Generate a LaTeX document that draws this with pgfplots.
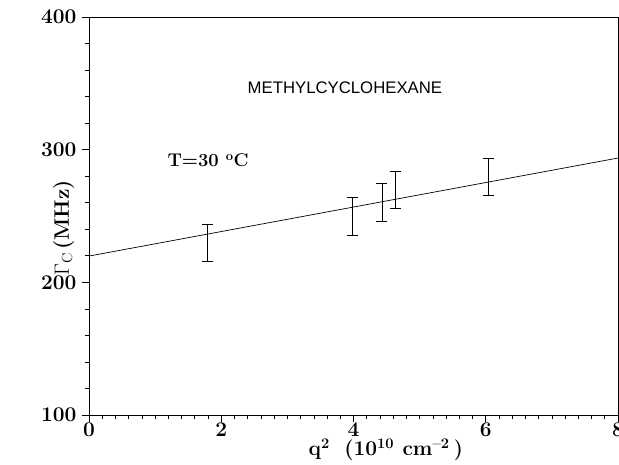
\documentclass[border=0pt]{standalone}
\usepackage{fontspec}
\usepackage{pgfplots}
\pgfplotsset{compat=1.18}
\newfontfamily\hel{Liberation Sans}
\newcommand{\bigbf}{\fontsize{21}{24}\selectfont\bfseries}
\newcommand{\midbf}{\fontsize{18.5}{21}\selectfont\bfseries}
\newcommand{\helsize}{\hel\fontsize{16.8}{19}\selectfont}
\pgfplotstableread{
x y e
1.79 229.6 14.0
3.98 249.9 14.2
4.43 260.0 14.3
4.63 269.9 14.0
6.04 279.6 14.0
}\errdata
\begin{document}
\begin{tikzpicture}
\useasboundingbox (-89bp,-50bp) rectangle (530bp,415bp);
\begin{axis}[
  at={(0,0)}, anchor=south west,
  width=529bp, height=398bp, scale only axis,
  xmin=0, xmax=8, ymin=100, ymax=400,
  xtick={0,2,4,6,8}, ytick={100,200,300,400},
  minor x tick num=9, minor y tick num=4,
  xtick pos=bottom, ytick pos=left,
  tick align=outside,
  major tick length=7bp, minor tick length=4bp,
  tick style={black, line width=0.6bp},
  axis line style={black, line width=0.8bp},
  /pgf/number format/assume math mode=true,
  ticklabel style={font=\bigbf},
  xticklabel style={yshift=3bp},
  yticklabel style={xshift=-2bp},
  xlabel={q\textsuperscript{2}\hspace{0.7em}(10\textsuperscript{10}\hspace{0.4em}cm\textsuperscript{--2}\hspace{0.2em})},
  ylabel={$\Gamma_{\mathrm{C}}$\,(MHz)},
  xlabel style={font=\bigbf, at={(axis description cs:0.561,-0.088)}, anchor=center},
  ylabel style={font=\bigbf, at={(axis description cs:-0.048,0.47)}, anchor=center},
  clip=false,
]
\addplot[black, line width=0.7bp] coordinates {(0,219.8) (8,293.7)};
\addplot[black, only marks, mark=text, text mark={},
  error bars/.cd, y dir=both, y explicit,
  error bar style={line width=0.7bp},
  error mark options={rotate=90, mark size=5.5bp, line width=0.7bp}]
  table[x=x, y=y, y error=e] {\errdata};
\node at (axis cs:3.87,347) {\helsize METHYLCYCLOHEXANE};
\node at (axis cs:1.80,291.7) {\midbf T=30 \textsuperscript{o}C};
\end{axis}
\end{tikzpicture}
\end{document}
